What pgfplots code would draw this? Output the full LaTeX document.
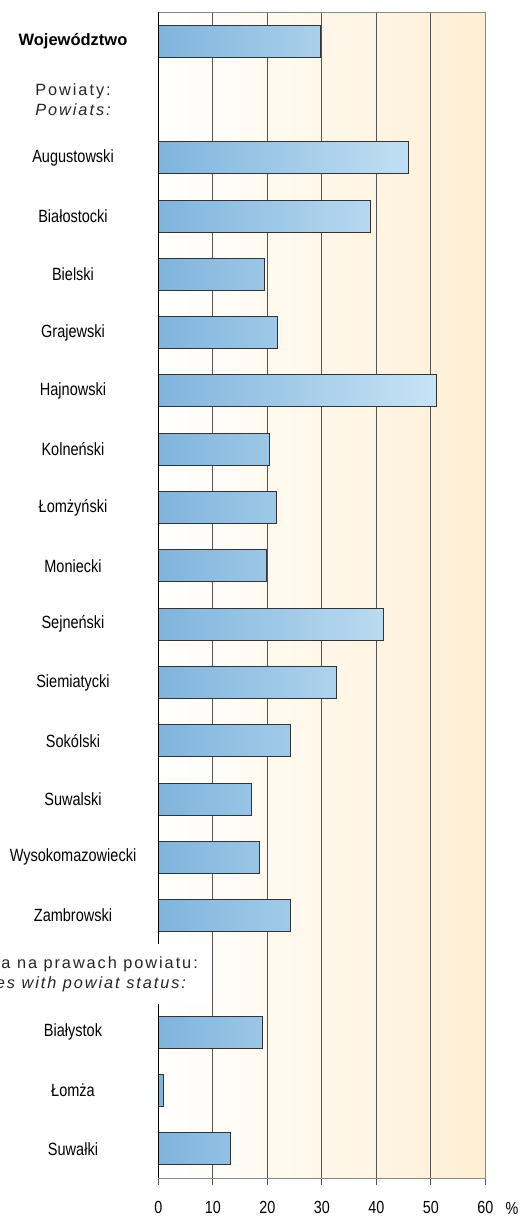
\documentclass[border=0pt]{standalone}
\usepackage{pgfplots}
\pgfplotsset{compat=1.18}
\usepackage{fontspec}
\setmainfont{Liberation Sans}
\newfontfamily\narrow{Liberation Sans}[FakeStretch=0.82]
\newfontfamily\spaced{Liberation Sans}[LetterSpace=12]
\definecolor{barL}{HTML}{80B4DC}
\definecolor{barR}{HTML}{C8E4F6}
\definecolor{bgR}{HTML}{FEEFD4}
\definecolor{gridc}{HTML}{555555}
\begin{document}
\begin{tikzpicture}[x=1pt,y=1pt]
\begin{axis}[
  at={(158.3pt,39pt)}, anchor=south west,
  scale only axis, width=327pt, height=1166pt,
  xmin=0, xmax=60, ymin=-0.5, ymax=19.5, y dir=reverse,
  axis background/.style={left color=white, right color=bgR},
  xtick={0,10,20,30,40,50,60}, xtick pos=bottom, tick align=outside,
  major tick length=7pt,
  x tick style={draw=gridc, line width=1pt},
  ytick={0,2,3,4,5,6,7,8,9,10,11,12,13,14,15,17,18,19},
  yticklabels={{\normalfont\bfseries\fontsize{16.5}{20}\selectfont Województwo},
    Augustowski, Białostocki, Bielski, Grajewski, Hajnowski, Kolneński,
    Łomżyński, Moniecki, Sejneński, Siemiatycki, Sokólski, Suwalski,
    Wysokomazowiecki, Zambrowski, Białystok, Łomża, Suwałki},
  y tick style={draw=none},
  yticklabel style={anchor=center, xshift=-78.3pt, font=\narrow\fontsize{17.7}{20}\selectfont},
  xticklabel style={yshift=-13pt, font=\narrow\fontsize{17.5}{20}\selectfont},
  /pgf/number format/assume math mode=true,
  xmajorgrids, major grid style={draw=gridc, line width=1pt},
  axis line style={draw=gridc!70, line width=0.8pt},
  clip=false,
]
\addplot[xbar, bar width=32pt, draw=black!80, line width=1pt,
  left color=barL, right color=barR] coordinates {
  (29.8,0) (45.9,2) (39.0,3) (19.4,4) (21.9,5) (51.1,6) (20.4,7) (21.7,8)
  (19.8,9) (41.3,10) (32.7,11) (24.2,12) (17.1,13) (18.5,14) (24.2,15)
  (19.1,17) (0.9,18) (13.3,19)};
\draw[black, line width=1pt] (rel axis cs:0,0) -- (rel axis cs:0,1);
\coordinate (h1) at (axis cs:0,1);
\coordinate (h2) at (axis cs:0,16);
\end{axis}
\node[align=center, font=\spaced\fontsize{16.3}{20}\selectfont, text=black!85]
  at ([xshift=-85.3pt]h1) {Powiaty:\\\itshape Powiats:};
\node[fill=white, inner xsep=12pt, inner ysep=12pt, align=center,
  font=\spaced\fontsize{16.3}{20}\selectfont, text=black!85]
  at ([xshift=-83pt]h2) {Miasta na prawach powiatu:\\\itshape Cities with powiat status:};
\node[font=\narrow\fontsize{17.5}{20}\selectfont] at (512,9) {\%};
\pgfresetboundingbox
\path (0,0) rectangle (525,1217);
\end{tikzpicture}
\end{document}
